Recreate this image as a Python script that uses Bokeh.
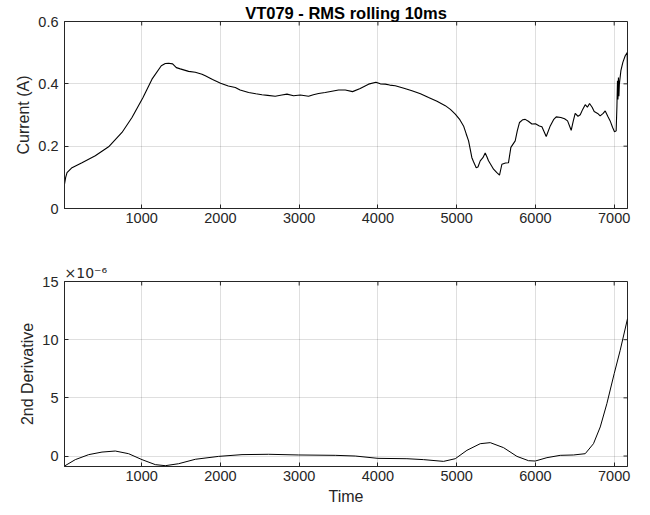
import math
from bokeh.plotting import figure
from bokeh.layouts import column
from bokeh.models import Range1d, FixedTicker
from bokeh.embed import file_html
from bokeh.resources import INLINE

# ---------------- data ----------------
time_rms = [20, 35, 52, 115, 242, 411, 580, 750, 877, 1017, 1131, 1249, 1300, 1342, 1393,
            1440, 1490, 1596, 1681, 1766, 1808, 1900, 2002, 2100, 2189, 2250, 2358, 2450,
            2527, 2600, 2696, 2780, 2845, 2929, 3014, 3119, 3180, 3246, 3330, 3416, 3500,
            3585, 3678, 3775, 3881, 3975, 4030, 4093, 4150, 4220, 4330, 4432, 4540, 4643,
            4750, 4855, 4920, 4982, 5040, 5087, 5120, 5151, 5193, 5214, 5248, 5270, 5299,
            5333, 5362, 5385, 5404, 5440, 5468, 5510, 5544, 5574, 5620, 5658, 5688, 5743,
            5770, 5798, 5840, 5870, 5910, 5955, 6000, 6050, 6082, 6137, 6188, 6230, 6264,
            6323, 6370, 6408, 6454, 6480, 6505, 6540, 6569, 6600, 6632, 6660, 6687, 6720,
            6746, 6790, 6822, 6860, 6886, 6920, 6949, 6980, 7004, 7025, 7035, 7042, 7048,
            7054, 7060, 7066, 7075, 7085, 7110, 7140, 7160, 7165, 7169]
current_rms = [0.078, 0.100, 0.115, 0.131, 0.147, 0.169, 0.198, 0.244, 0.292, 0.356, 0.415,
               0.458, 0.465, 0.466, 0.464, 0.452, 0.448, 0.440, 0.437, 0.431, 0.426, 0.414,
               0.402, 0.393, 0.388, 0.380, 0.372, 0.368, 0.365, 0.363, 0.360, 0.364, 0.367,
               0.362, 0.364, 0.360, 0.365, 0.369, 0.372, 0.376, 0.380, 0.380, 0.375, 0.385,
               0.399, 0.405, 0.400, 0.399, 0.396, 0.394, 0.386, 0.378, 0.368, 0.356, 0.344,
               0.330, 0.318, 0.303, 0.285, 0.265, 0.240, 0.217, 0.163, 0.150, 0.131, 0.133,
               0.153, 0.163, 0.178, 0.165, 0.153, 0.138, 0.126, 0.115, 0.107, 0.142, 0.146,
               0.147, 0.196, 0.217, 0.250, 0.276, 0.285, 0.286, 0.280, 0.271, 0.272, 0.265,
               0.262, 0.231, 0.265, 0.285, 0.294, 0.292, 0.288, 0.281, 0.251, 0.280, 0.305,
               0.296, 0.301, 0.318, 0.333, 0.325, 0.337, 0.325, 0.311, 0.305, 0.297, 0.305,
               0.313, 0.295, 0.281, 0.260, 0.246, 0.249, 0.330, 0.410, 0.350, 0.420, 0.360,
               0.400, 0.420, 0.442, 0.469, 0.490, 0.498, 0.500, 0.400]

time_d2 = [20, 157, 327, 496, 665, 834, 1004, 1173, 1300, 1469, 1681, 1977, 2274, 2612,
           2993, 3458, 3712, 4000, 4368, 4580, 4833, 4982, 5130, 5299, 5426, 5595, 5765,
           5912, 5997, 6146, 6315, 6484, 6632, 6737, 6823, 6907, 7000, 7076, 7169]
deriv2_e6 = [-0.86, -0.31, 0.12, 0.34, 0.43, 0.20, -0.31, -0.74, -0.83, -0.66, -0.28, -0.03,
             0.12, 0.15, 0.09, 0.06, 0.00, -0.20, -0.23, -0.31, -0.46, -0.23, 0.49, 1.06,
             1.15, 0.72, -0.03, -0.40, -0.43, -0.14, 0.06, 0.09, 0.20, 1.06, 2.50, 4.50,
             7.08, 9.08, 11.80]

x_ticks = [1000, 2000, 3000, 4000, 5000, 6000, 7000]
y1_ticks = [0, 0.2, 0.4, 0.6]
y1_labels = {0: "0", 0.2: "0.2", 0.4: "0.4", 0.6: "0.6"}
y2_ticks = [0, 5, 10, 15]

title_text = "VT079 - RMS rolling 10ms"
exp_text = "\u00d710\u207b\u2076"
x_label = "Time"
y1_label = "Current (A)"
y2_label = "2nd Derivative"

# ---------------- style ----------------
FONT = "Liberation Sans"
AX = "#262626"
TICK_FS = "14.5px"
LAB_FS = "16px"
X0, X1 = 20, 7169


def style_fig(p, yticks, y0, y1, xlabel=None, ylabel=None, ylabels=None):
    p.outline_line_color = AX
    p.outline_line_width = 1
    for ax in p.xaxis + p.yaxis:
        ax.axis_line_color = AX
        ax.major_tick_line_color = AX
        ax.major_tick_in = 4
        ax.major_tick_out = 0
        ax.minor_tick_line_color = None
        ax.major_label_text_font = FONT
        ax.major_label_text_font_size = TICK_FS
        ax.major_label_text_color = AX
        ax.axis_label_text_font = FONT
        ax.axis_label_text_font_size = LAB_FS
        ax.axis_label_text_font_style = "normal"
        ax.axis_label_text_color = AX
    p.xaxis[0].ticker = FixedTicker(ticks=x_ticks)
    p.yaxis[0].ticker = FixedTicker(ticks=yticks)
    p.xaxis[0].major_label_standoff = 4
    p.yaxis[0].major_label_standoff = 6
    p.xaxis[0].axis_label_standoff = 4
    p.yaxis[0].axis_label_standoff = 3
    if ylabels:
        p.yaxis[0].major_label_overrides = ylabels
    if xlabel:
        p.xaxis[0].axis_label = xlabel
    if ylabel:
        p.yaxis[0].axis_label = ylabel
    for g in p.xgrid + p.ygrid:
        g.grid_line_color = AX
        g.grid_line_alpha = 0.15
        g.grid_line_width = 1
    # box ticks on top and right edges (half of each dash is clipped by the frame)
    p.scatter(x_ticks, [y1] * len(x_ticks), marker="dash", angle=math.pi / 2, size=8,
              line_color=AX, line_width=1)
    p.scatter([X1] * len(yticks), yticks, marker="dash", size=8,
              line_color=AX, line_width=1)


# ---------------- top figure ----------------
p1 = figure(width=642, height=258, output_backend="svg", toolbar_location=None,
            x_range=Range1d(X0, X1), y_range=Range1d(0, 0.6),
            min_border_left=64, min_border_right=15, min_border_top=21, min_border_bottom=50)
p1.line(time_rms, current_rms, line_color="black", line_width=1.1)
style_fig(p1, y1_ticks, 0, 0.6, ylabel=y1_label, ylabels=y1_labels)
p1.title.text = title_text
p1.title.align = "center"
p1.title.text_font = FONT
p1.title.text_font_size = "16.5px"
p1.title.text_font_style = "bold"
p1.title.text_color = "black"
p1.title.standoff = 0

# ---------------- bottom figure ----------------
p2 = figure(width=642, height=254, output_backend="svg", toolbar_location=None,
            x_range=p1.x_range, y_range=Range1d(-0.9, 15),
            min_border_left=64, min_border_right=15, min_border_top=23, min_border_bottom=46)
p2.line(time_d2, deriv2_e6, line_color="black", line_width=1)
style_fig(p2, y2_ticks, -0.9, 15, xlabel=x_label, ylabel=y2_label)
p2.title.text = exp_text
p2.title.align = "left"
p2.title.text_font = "DejaVu Sans"
p2.title.text_font_size = "14px"
p2.title.text_font_style = "normal"
p2.title.text_color = AX
p2.title.standoff = 1

layout = column(p1, p2, spacing=0)
open("out.html", "w").write(file_html(layout, INLINE))
